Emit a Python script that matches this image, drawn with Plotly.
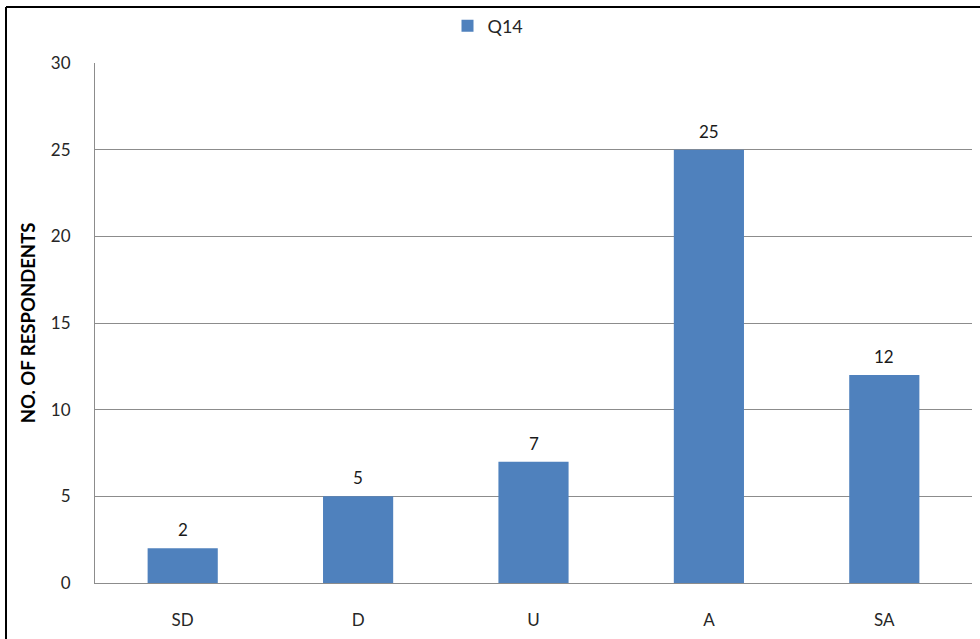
import plotly.graph_objects as go

# Survey responses for Q14
categories = ["SD", "D", "U", "A", "SA"]
respondents = [2, 5, 7, 25, 12]
y_ticks = [0, 5, 10, 15, 20, 25, 30]

FONT = "Lato, 'Open Sans', Arial, sans-serif"
BAR_COLOR = "#4F81BD"
GRID = "#8C8C8C"
TEXT = "#262626"

fig = go.Figure()
fig.add_trace(go.Bar(
    x=categories,
    y=respondents,
    name="Q14",
    marker=dict(color=BAR_COLOR, line=dict(width=0)),
    showlegend=True,
))

# value labels sitting just above each bar
for cat, val in zip(categories, respondents):
    fig.add_annotation(
        x=cat, y=val, xref="x", yref="y",
        text=str(val), showarrow=False,
        yanchor="bottom", yshift=6,
        font=dict(family=FONT, size=17, color="#1a1a1a"),
    )

W, H = 980, 639
L, R, T, B = 95, 8, 63, 56
pw, ph = W - L - R, H - T - B


def px_x(p):
    return (p - L) / pw


def px_y(p):
    return (H - B - p) / ph


fig.update_layout(
    width=W,
    height=H,
    margin=dict(l=L, r=R, t=T, b=B),
    paper_bgcolor="white",
    plot_bgcolor="white",
    font=dict(family=FONT, size=17, color=TEXT),
    bargap=0.6,
    showlegend=True,
    legend=dict(
        orientation="h",
        x=px_x(488), xanchor="center",
        y=px_y(26), yanchor="middle",
        font=dict(family=FONT, size=18, color=TEXT),
        itemwidth=30,
        bgcolor="rgba(0,0,0,0)",
    ),
    xaxis=dict(
        showline=True, linecolor=GRID, linewidth=1,
        showgrid=False, ticks="",
        ticklabelstandoff=22,
        tickfont=dict(family=FONT, size=17, color=TEXT),
    ),
    yaxis=dict(
        range=[0, 30],
        tickvals=y_ticks,
        showline=True, linecolor=GRID, linewidth=1,
        showgrid=True, gridcolor=GRID, gridwidth=1,
        zeroline=False,
        ticks="",
        ticklabelstandoff=20,
        tickfont=dict(family=FONT, size=17, color=TEXT),
        title=dict(
            text="<b>NO. OF RESPONDENTS</b>",
            font=dict(family=FONT, size=18.5, color="#000000"),
            standoff=10,
        ),
    ),
    shapes=[
        # outer frame: top and left edges
        dict(type="line", xref="paper", yref="paper",
             x0=px_x(6), x1=px_x(W + 5), y0=px_y(7), y1=px_y(7),
             line=dict(color="black", width=2)),
        dict(type="line", xref="paper", yref="paper",
             x0=px_x(6), x1=px_x(6), y0=px_y(7), y1=px_y(H + 5),
             line=dict(color="black", width=2)),
    ],
)

fig.write_html("out.html")
